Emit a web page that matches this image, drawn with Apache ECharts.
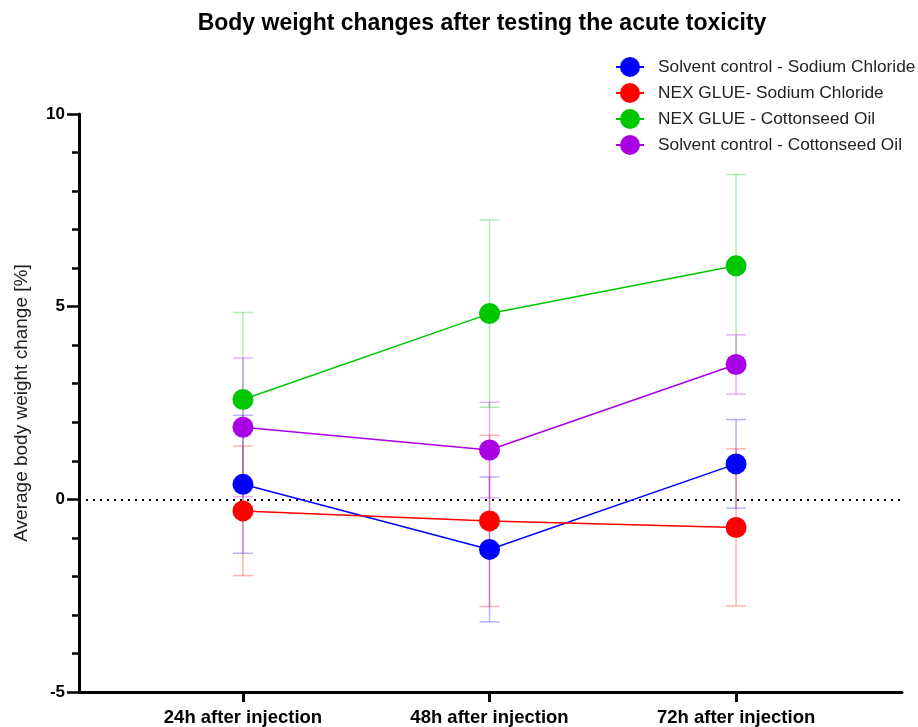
<!DOCTYPE html>
<html>
<head>
<meta charset="utf-8">
<script src="https://cdn.jsdelivr.net/npm/echarts@6/dist/echarts.min.js"></script>
<style>html,body{margin:0;padding:0;background:#fff}#c{width:918px;height:727px}</style>
</head>
<body>
<div id="c"></div>
<script>
const categories = ['24h after injection', '48h after injection', '72h after injection'];
const seriesNames = ['Solvent control - Sodium Chloride', 'NEX GLUE- Sodium Chloride', 'NEX GLUE - Cottonseed Oil', 'Solvent control - Cottonseed Oil'];
const blueMean = [0.39, -1.30, 0.92];
const blueSD = [1.79, 1.88, 1.15];
const redMean = [-0.30, -0.56, -0.73];
const redSD = [1.68, 2.22, 2.04];
const greenMean = [2.59, 4.82, 6.06];
const greenSD = [2.26, 2.43, 2.37];
const purpleMean = [1.87, 1.28, 3.50];
const purpleSD = [1.80, 1.24, 0.77];
const yTicks = [-5, 0, 5, 10];

const colors = ['#0000ff', '#ff0000', '#00c800', '#a900e6'];
const means = [blueMean, redMean, greenMean, purpleMean];
const sds = [blueSD, redSD, greenSD, purpleSD];
const FONT = 'Liberation Sans, Arial, sans-serif';

const chart = echarts.init(document.getElementById('c'), null, {renderer: 'canvas'});

const series = [];
means.forEach((m, s) => {
  series.push({
    name: 'err' + s,
    type: 'custom',
    z: 1,
    silent: true,
    data: categories.map((c, i) => [i + 1, m[i] - sds[s][i], m[i] + sds[s][i]]),
    encode: {x: 0, y: [1, 2]},
    renderItem: function (params, api) {
      const x = api.value(0);
      const lo = api.coord([x, api.value(1)]);
      const hi = api.coord([x, api.value(2)]);
      const hw = 10;
      const st = {stroke: colors[s], lineWidth: 1.5, opacity: 0.3};
      return {
        type: 'group',
        children: [
          {type: 'line', shape: {x1: hi[0], y1: hi[1], x2: lo[0], y2: lo[1]}, style: st},
          {type: 'line', shape: {x1: hi[0] - hw, y1: hi[1], x2: hi[0] + hw, y2: hi[1]}, style: st},
          {type: 'line', shape: {x1: lo[0] - hw, y1: lo[1], x2: lo[0] + hw, y2: lo[1]}, style: st}
        ]
      };
    }
  });
});
means.forEach((m, s) => {
  const ser = {
    name: seriesNames[s],
    type: 'line',
    z: 3,
    symbol: 'circle',
    symbolSize: 21,
    data: categories.map((c, i) => [i + 1, m[i]]),
    lineStyle: {color: colors[s], width: 1.5},
    itemStyle: {color: colors[s]},
    emphasis: {disabled: true}
  };
  if (s === 0) {
    ser.markLine = {
      silent: true,
      symbol: 'none',
      label: {show: false},
      lineStyle: {type: [2, 5], color: '#000', width: 2},
      data: [{yAxis: 0}],
      z: 2
    };
  }
  series.push(ser);
});

chart.setOption({
  animation: false,
  backgroundColor: '#fff',
  title: {
    text: 'Body weight changes after testing the acute toxicity',
    left: 477,
    textAlign: 'center',
    top: 7,
    textStyle: {fontFamily: FONT, fontSize: 23, fontWeight: 'bold', color: '#000'}
  },
  legend: {
    data: seriesNames,
    orient: 'vertical',
    left: 610,
    top: 52,
    itemWidth: 28,
    itemHeight: 25,
    itemGap: 6,
    textStyle: {fontFamily: FONT, fontSize: 17.3, color: '#222', padding: [0, 0, 0, 9]}
  },
  grid: {left: 79, right: 16, top: 114, bottom: 32, containLabel: false},
  xAxis: {
    type: 'value',
    min: 0.335,
    max: 3.673,
    splitLine: {show: false},
    axisLine: {show: true, onZero: false, lineStyle: {color: '#000', width: 3}},
    axisTick: {show: true, customValues: [1, 2, 3], length: 10, lineStyle: {color: '#000', width: 3}},
    axisLabel: {
      customValues: [1, 2, 3],
      formatter: v => categories[Math.round(v) - 1],
      fontFamily: FONT, fontSize: 18.5, fontWeight: 'bold', color: '#000', margin: 16
    }
  },
  yAxis: {
    type: 'value',
    min: -5,
    max: 10,
    interval: 5,
    name: 'Average body weight change [%]',
    nameLocation: 'middle',
    nameGap: 48,
    nameTextStyle: {fontFamily: FONT, fontSize: 19, color: '#222'},
    splitLine: {show: false},
    axisLine: {show: true, lineStyle: {color: '#000', width: 3}},
    axisTick: {show: true, length: 12, lineStyle: {color: '#000', width: 2.5}},
    minorTick: {show: true, splitNumber: 5, length: 7, lineStyle: {color: '#000', width: 2.5}},
    axisLabel: {
      customValues: yTicks,
      fontFamily: FONT, fontSize: 17, fontWeight: 'bold', color: '#000', margin: 14
    }
  },
  series: series
});
</script>
</body>
</html>
